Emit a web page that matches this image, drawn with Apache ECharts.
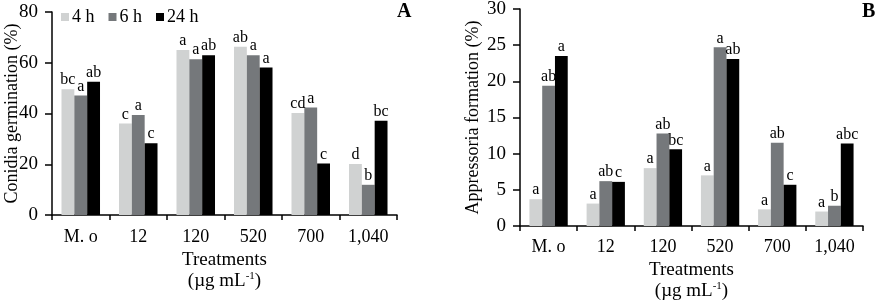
<!DOCTYPE html>
<html>
<head>
<meta charset="utf-8">
<script src="https://cdn.jsdelivr.net/npm/echarts@6/dist/echarts.min.js"></script>
<style>
  html, body { margin: 0; padding: 0; background: #fff; }
  #chart { width: 878px; height: 300px; }
</style>
</head>
<body>
<div id="chart"></div>
<script>
const categories = ['M. o', '12', '120', '520', '700', '1,040']
const seriesNames = ['4 h', '6 h', '24 h']
const colors = ['#d0d2d2', '#75787b', '#000000']

// panel A: conidia germination (%)
const germ4h = [49.6, 36.1, 65.0, 66.3, 40.2, 20.1]
const germ6h = [47.1, 39.4, 61.4, 63.0, 42.4, 11.9]
const germ24h = [52.5, 28.3, 63.0, 58.1, 20.3, 37.1]
const germLetters4h = ['bc', 'c', 'a', 'ab', 'cd', 'd']
const germLetters6h = ['a', 'a', 'a', 'a', 'a', 'b']
const germLetters24h = ['ab', 'c', 'ab', 'a', 'c', 'bc']

// panel B: appressoria formation (%)
const app4h = [3.7, 3.1, 8.0, 7.0, 2.3, 2.0]
const app6h = [19.4, 6.2, 12.8, 24.7, 11.5, 2.8]
const app24h = [23.5, 6.1, 10.6, 23.1, 5.7, 11.4]
const appLetters4h = ['a', 'a', 'a', 'a', 'a', 'a']
const appLetters6h = ['ab', 'ab', 'ab', 'a', 'ab', 'b']
const appLetters24h = ['a', 'c', 'bc', 'ab', 'c', 'abc']

const font = 'Liberation Serif'

const germData = [germ4h, germ6h, germ24h]
const germLetters = [germLetters4h, germLetters6h, germLetters24h]
const appData = [app4h, app6h, app24h]
const appLetters = [appLetters4h, appLetters6h, appLetters24h]

const xAxisFor = (gridIndex, labelMargin, nameGap) => ({
  type: 'category',
  gridIndex,
  data: categories,
  axisLine: { lineStyle: { color: '#000', width: 1.5 } },
  axisTick: { show: true, length: 5, lineStyle: { color: '#000', width: 1.5 } },
  axisLabel: { color: '#000', fontFamily: font, fontSize: 18, margin: labelMargin },
  name: '{a|Treatments}\n{a|(µg mL}{s|-1}{a|)}',
  nameLocation: 'middle',
  nameGap,
  nameTextStyle: {
    rich: {
      a: { fontFamily: font, fontSize: 19, color: '#000', lineHeight: 21 },
      s: { fontFamily: font, fontSize: 11, color: '#000', verticalAlign: 'top', lineHeight: 21, padding: [0, 0, 9, 0] },
    },
  },
})

const yAxisFor = (gridIndex, max, interval, name, nameGap) => ({
  type: 'value',
  gridIndex,
  min: 0,
  max,
  interval,
  splitLine: { show: false },
  axisLine: { show: true, lineStyle: { color: '#000', width: 1.5 } },
  axisTick: { show: true, length: 7, lineStyle: { color: '#000', width: 1.5 } },
  axisLabel: { color: '#000', fontFamily: font, fontSize: 19, margin: 14 },
  name,
  nameLocation: 'middle',
  nameGap,
  nameMoveOverlap: false,
  nameTextStyle: { fontFamily: font, fontSize: 18, color: '#000' },
})

const buildSeries = (data, letters, axisIndex) =>
  data.map((values, i) => ({
    name: seriesNames[i],
    type: 'bar',
    xAxisIndex: axisIndex,
    yAxisIndex: axisIndex,
    data: values,
    barGap: '0%',
    barCategoryGap: '33%',
    itemStyle: { color: colors[i] },
    label: {
      show: true,
      position: 'top',
      distance: 1,
      color: '#000',
      fontFamily: font,
      fontSize: 16,
      formatter: (p) => letters[i][p.dataIndex],
    },
  }))

const chart = echarts.init(document.getElementById('chart'))
chart.setOption({
  animation: false,
  legend: {
    data: seriesNames,
    left: 56,
    top: 3,
    icon: 'rect',
    itemWidth: 8,
    itemHeight: 8,
    itemGap: 14,
    textStyle: { fontFamily: font, fontSize: 18, color: '#000', padding: [0, 0, 0, -2] },
  },
  grid: [
    { left: 52, top: 12, width: 345, height: 203, outerBoundsMode: 'none' },
    { left: 520, top: 9, width: 343, height: 217, outerBoundsMode: 'none' },
  ],
  xAxis: [xAxisFor(0, 13, 34), xAxisFor(1, 12, 34)],
  yAxis: [
    yAxisFor(0, 80, 20, 'Conidia germination (%)', 31),
    yAxisFor(1, 30, 5, 'Appressoria formation (%)', 38),
  ],
  series: [
    ...buildSeries(germData, germLetters, 0),
    ...buildSeries(appData, appLetters, 1),
  ],
  graphic: [
    { type: 'text', left: 397, top: 2, style: { text: 'A', fontFamily: font, fontSize: 20, fontWeight: 'bold', fill: '#000' } },
    { type: 'text', left: 862, top: 2, style: { text: 'B', fontFamily: font, fontSize: 20, fontWeight: 'bold', fill: '#000' } },
  ],
})
</script>
</body>
</html>
